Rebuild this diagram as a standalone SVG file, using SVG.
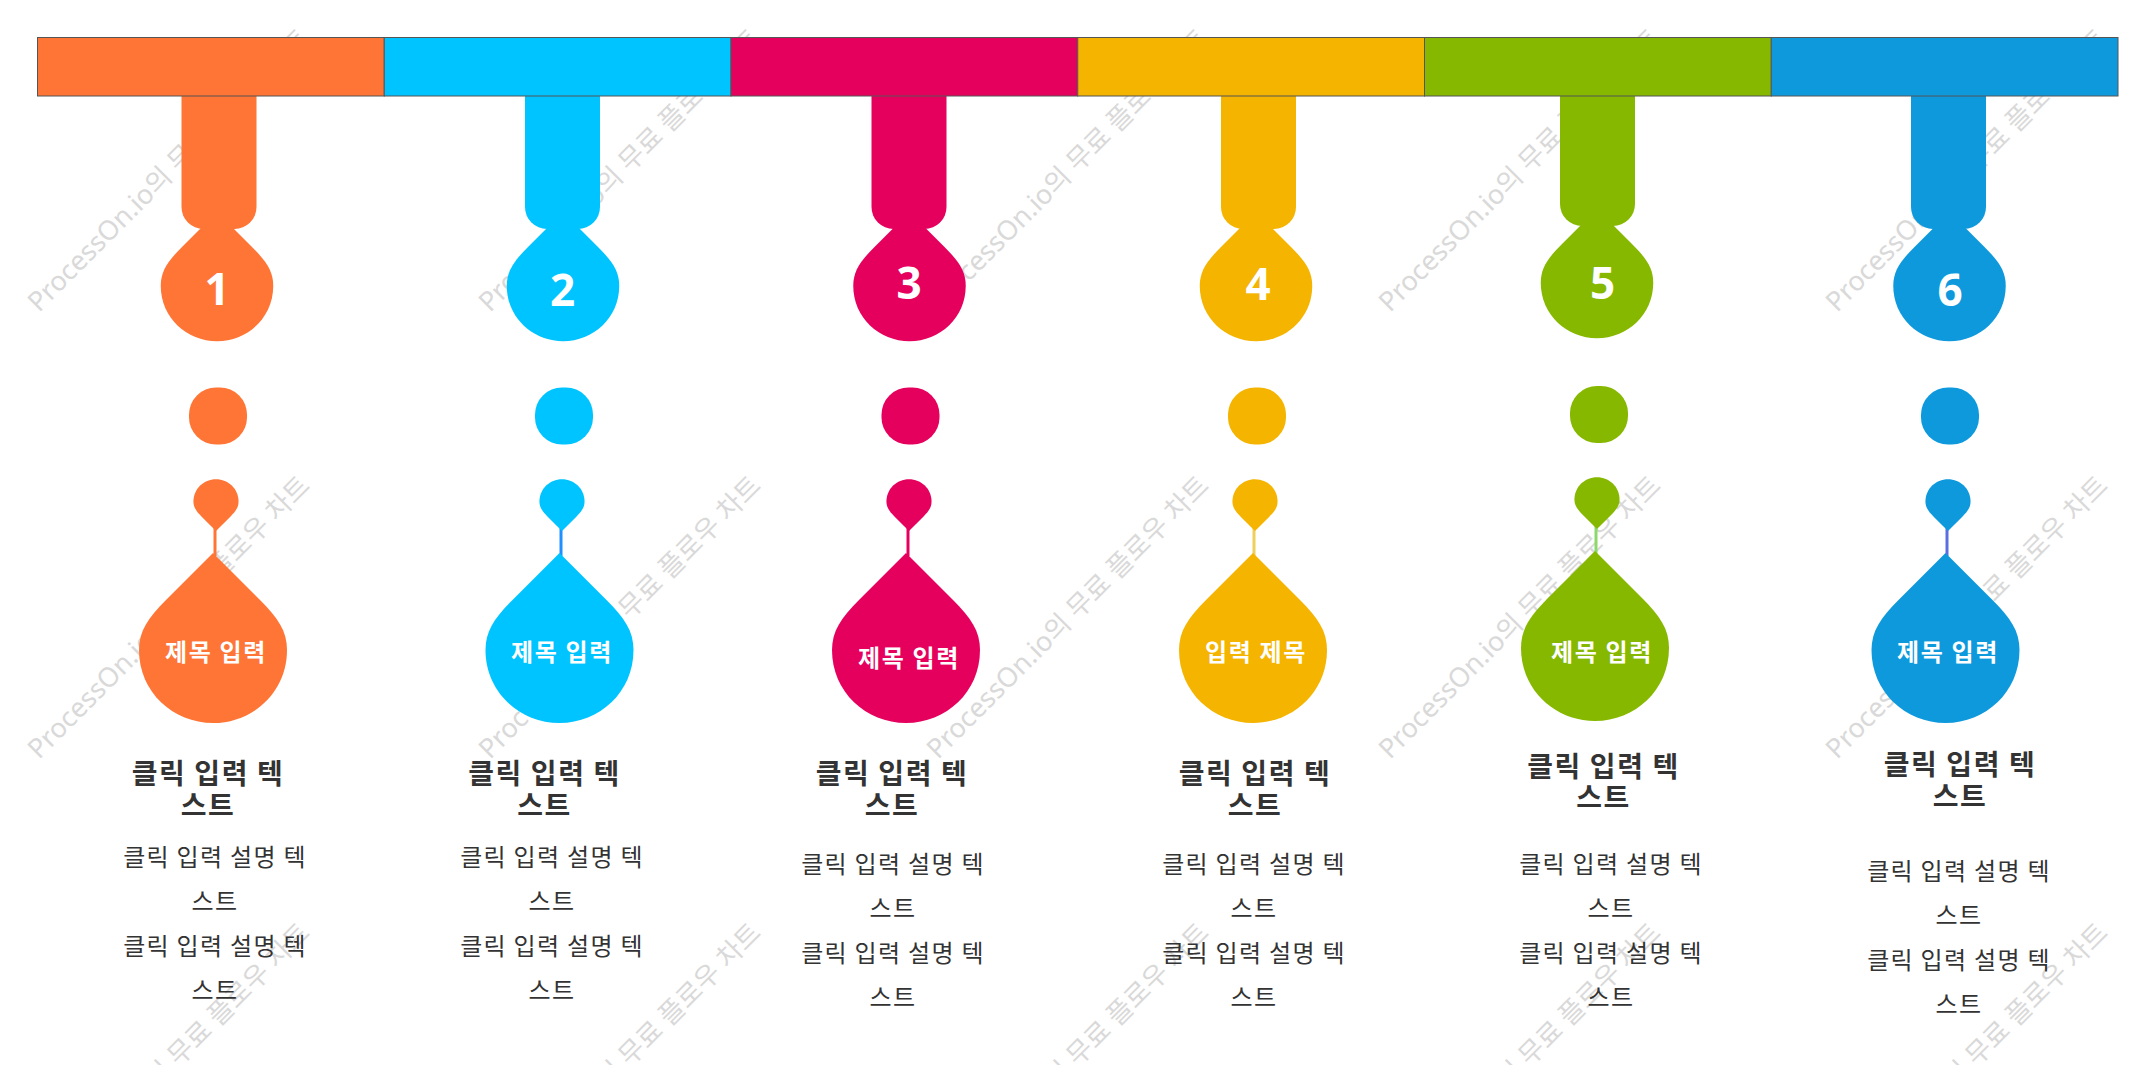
<svg xmlns="http://www.w3.org/2000/svg" xmlns:xlink="http://www.w3.org/1999/xlink" width="2155" height="1065" viewBox="0 0 2155 1065">
<style>
.seg{stroke:#555555;stroke-width:1}
.num{font-family:"Open Sans","Noto Sans",sans-serif;font-weight:700;font-size:44px;fill:#ffffff;text-anchor:middle}
.lbl{font-family:"Noto Sans CJK KR","Noto Sans",sans-serif;font-weight:700;font-size:24px;letter-spacing:1.6px;fill:#ffffff;text-anchor:middle}
.ttl{font-family:"Noto Sans CJK KR","Noto Sans",sans-serif;font-weight:700;font-size:28px;letter-spacing:1.6px;fill:#333333;text-anchor:middle}
.dsc{font-family:"Noto Sans CJK KR","Noto Sans",sans-serif;font-weight:400;font-size:24px;letter-spacing:1.3px;fill:#333333;text-anchor:middle}
.wm{font-family:"Noto Sans","Noto Sans CJK KR",sans-serif;font-size:27px;fill:#d9d9d9}
.link{stroke-width:3;fill:none}
</style>
<defs>
<path id="drop" d="M0,0 L47,47 C65,65 74,78 74,97 C74,139 40,170 0,170 C-40,170 -74,139 -74,97 C-74,78 -65,65 -47,47 Z"/>
<path id="stem" d="M-37.5,90 H37.5 V207 A22,22 0 0 1 15.5,229 H-15.5 A22,22 0 0 1 -37.5,207 Z"/>
<rect id="dot" x="-29" y="-28.5" width="58" height="57" rx="27" ry="27"/>
</defs>
<rect width="2155" height="1065" fill="#ffffff"/>

<g id="watermark" class="wm">
<text transform="translate(39,313) rotate(-45)">ProcessOn.io의 무료 플로우 차트</text>
<text transform="translate(490,313) rotate(-45)">ProcessOn.io의 무료 플로우 차트</text>
<text transform="translate(938,313) rotate(-45)">ProcessOn.io의 무료 플로우 차트</text>
<text transform="translate(1390,313) rotate(-45)">ProcessOn.io의 무료 플로우 차트</text>
<text transform="translate(1837,313) rotate(-45)">ProcessOn.io의 무료 플로우 차트</text>
<text transform="translate(39,760) rotate(-45)">ProcessOn.io의 무료 플로우 차트</text>
<text transform="translate(490,760) rotate(-45)">ProcessOn.io의 무료 플로우 차트</text>
<text transform="translate(938,760) rotate(-45)">ProcessOn.io의 무료 플로우 차트</text>
<text transform="translate(1390,760) rotate(-45)">ProcessOn.io의 무료 플로우 차트</text>
<text transform="translate(1837,760) rotate(-45)">ProcessOn.io의 무료 플로우 차트</text>
<text transform="translate(39,1207) rotate(-45)">ProcessOn.io의 무료 플로우 차트</text>
<text transform="translate(490,1207) rotate(-45)">ProcessOn.io의 무료 플로우 차트</text>
<text transform="translate(938,1207) rotate(-45)">ProcessOn.io의 무료 플로우 차트</text>
<text transform="translate(1390,1207) rotate(-45)">ProcessOn.io의 무료 플로우 차트</text>
<text transform="translate(1837,1207) rotate(-45)">ProcessOn.io의 무료 플로우 차트</text>
</g>

<g id="connectors">
<line class="link" x1="215" y1="528" x2="215" y2="556" stroke="#FE7535"/>
<line class="link" x1="561" y1="528" x2="561" y2="556" stroke="#1E90FF"/>
<line class="link" x1="908" y1="528" x2="908" y2="556" stroke="#E6005E"/>
<line class="link" x1="1254" y1="528" x2="1254" y2="556" stroke="#EFCF5A"/>
<line class="link" x1="1596" y1="526" x2="1596" y2="554" stroke="#8DD86A"/>
<line class="link" x1="1947" y1="528" x2="1947" y2="556" stroke="#5B6FE3"/>
</g>

<g id="step1" fill="#FE7535">
<use xlink:href="#stem" transform="translate(219,0)"/>
<use xlink:href="#drop" transform="translate(217,212) scale(0.76)"/>
<text class="num" x="217" y="305">1</text>
<use xlink:href="#dot" transform="translate(218,416)"/>
<use xlink:href="#drop" transform="translate(216,531) scale(0.305,-0.305)"/>
<use xlink:href="#drop" transform="translate(213,553)"/>
<text class="lbl" x="216" y="661">제목 입력</text>
<text class="ttl"><tspan x="208" y="784">클릭 입력 텍</tspan><tspan x="208" y="816">스트</tspan></text>
<text class="dsc"><tspan x="215" y="866">클릭 입력 설명 텍</tspan><tspan x="215" y="910">스트</tspan><tspan x="215" y="955">클릭 입력 설명 텍</tspan><tspan x="215" y="999">스트</tspan></text>
</g>

<g id="step2" fill="#00C4FF">
<use xlink:href="#stem" transform="translate(562.5,0)"/>
<use xlink:href="#drop" transform="translate(563,212) scale(0.76)"/>
<text class="num" x="562.5" y="306">2</text>
<use xlink:href="#dot" transform="translate(564,416)"/>
<use xlink:href="#drop" transform="translate(562,531) scale(0.305,-0.305)"/>
<use xlink:href="#drop" transform="translate(559.5,553)"/>
<text class="lbl" x="562" y="661">제목 입력</text>
<text class="ttl"><tspan x="544.5" y="784">클릭 입력 텍</tspan><tspan x="544.5" y="816">스트</tspan></text>
<text class="dsc"><tspan x="552" y="866">클릭 입력 설명 텍</tspan><tspan x="552" y="910">스트</tspan><tspan x="552" y="955">클릭 입력 설명 텍</tspan><tspan x="552" y="999">스트</tspan></text>
</g>

<g id="step3" fill="#E6005E">
<use xlink:href="#stem" transform="translate(909,0)"/>
<use xlink:href="#drop" transform="translate(909.5,212) scale(0.76)"/>
<text class="num" x="909" y="299">3</text>
<use xlink:href="#dot" transform="translate(910.5,416)"/>
<use xlink:href="#drop" transform="translate(909,531) scale(0.305,-0.305)"/>
<use xlink:href="#drop" transform="translate(906,553)"/>
<text class="lbl" x="909" y="667">제목 입력</text>
<text class="ttl"><tspan x="892" y="784">클릭 입력 텍</tspan><tspan x="892" y="816">스트</tspan></text>
<text class="dsc"><tspan x="893" y="873">클릭 입력 설명 텍</tspan><tspan x="893" y="917">스트</tspan><tspan x="893" y="962">클릭 입력 설명 텍</tspan><tspan x="893" y="1006">스트</tspan></text>
</g>

<g id="step4" fill="#F4B400">
<use xlink:href="#stem" transform="translate(1258.5,0)"/>
<use xlink:href="#drop" transform="translate(1256,212) scale(0.76)"/>
<text class="num" x="1258" y="300">4</text>
<use xlink:href="#dot" transform="translate(1257,416)"/>
<use xlink:href="#drop" transform="translate(1255,531) scale(0.305,-0.305)"/>
<use xlink:href="#drop" transform="translate(1253,553)"/>
<text class="lbl" x="1256" y="661">입력 제목</text>
<text class="ttl"><tspan x="1255" y="784">클릭 입력 텍</tspan><tspan x="1255" y="816">스트</tspan></text>
<text class="dsc"><tspan x="1254" y="873">클릭 입력 설명 텍</tspan><tspan x="1254" y="917">스트</tspan><tspan x="1254" y="962">클릭 입력 설명 텍</tspan><tspan x="1254" y="1006">스트</tspan></text>
</g>

<g id="step5" fill="#86B800">
<use xlink:href="#stem" transform="translate(1597.5,-3)"/>
<use xlink:href="#drop" transform="translate(1597,209) scale(0.76)"/>
<text class="num" x="1602.5" y="299">5</text>
<use xlink:href="#dot" transform="translate(1599,414.5)"/>
<use xlink:href="#drop" transform="translate(1597,529) scale(0.305,-0.305)"/>
<use xlink:href="#drop" transform="translate(1595,551)"/>
<text class="lbl" x="1602" y="661">제목 입력</text>
<text class="ttl"><tspan x="1603.5" y="777">클릭 입력 텍</tspan><tspan x="1603.5" y="808">스트</tspan></text>
<text class="dsc"><tspan x="1611" y="873">클릭 입력 설명 텍</tspan><tspan x="1611" y="917">스트</tspan><tspan x="1611" y="962">클릭 입력 설명 텍</tspan><tspan x="1611" y="1006">스트</tspan></text>
</g>

<g id="step6" fill="#0E99DD">
<use xlink:href="#stem" transform="translate(1948.5,0)"/>
<use xlink:href="#drop" transform="translate(1949.5,212) scale(0.76)"/>
<text class="num" x="1950" y="306">6</text>
<use xlink:href="#dot" transform="translate(1950,416)"/>
<use xlink:href="#drop" transform="translate(1948,531) scale(0.305,-0.305)"/>
<use xlink:href="#drop" transform="translate(1945.5,553)"/>
<text class="lbl" x="1948" y="661">제목 입력</text>
<text class="ttl"><tspan x="1960" y="775">클릭 입력 텍</tspan><tspan x="1960" y="807">스트</tspan></text>
<text class="dsc"><tspan x="1959" y="880">클릭 입력 설명 텍</tspan><tspan x="1959" y="924">스트</tspan><tspan x="1959" y="969">클릭 입력 설명 텍</tspan><tspan x="1959" y="1013">스트</tspan></text>
</g>

<g id="bar">
<rect class="seg" x="37.5" y="37.5" width="346.75" height="58.5" fill="#FE7535"/>
<rect class="seg" x="384.25" y="37.5" width="346.75" height="58.5" fill="#00C4FF"/>
<rect class="seg" x="731" y="37.5" width="346.75" height="58.5" fill="#E6005E"/>
<rect class="seg" x="1077.75" y="37.5" width="346.75" height="58.5" fill="#F4B400"/>
<rect class="seg" x="1424.5" y="37.5" width="346.75" height="58.5" fill="#86B800"/>
<rect class="seg" x="1771.25" y="37.5" width="346.75" height="58.5" fill="#0E99DD"/>
</g>
</svg>
